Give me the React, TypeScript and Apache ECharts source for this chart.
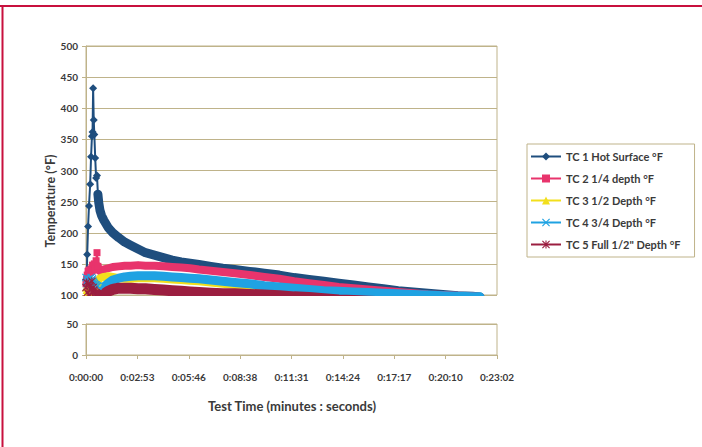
import React, { useEffect, useRef } from 'react';
import * as echarts from 'echarts';

// Time in seconds since start of test
const times = [0, 2, 4, 7, 10, 14, 17, 20, 22, 24, 26, 28, 31, 34, 37, 40, 43, 47, 52, 60, 75, 90, 110, 130, 150, 175, 200, 230, 260, 290, 320, 350, 380, 420, 460, 500, 550, 600, 650, 700, 750, 800, 850, 900, 950, 1000, 1050, 1100, 1150, 1200, 1250, 1300, 1325];

const tc1 = [125, 108, 165, 210, 243, 278, 322, 355, 362, 432, 381, 358, 320, 288, 292, 262, 248, 236, 228, 220, 208, 200, 192, 185, 180, 174, 168, 164, 160, 156, 153, 151, 149, 146, 143, 141, 138, 135, 132, 128, 125, 122, 119, 116, 113, 110, 107, 105, 103, 101, 99, 98, 97];
const tc2 = [118, 125, 132, 138, 140, 136, 142, 138, 148, 140, 145, 150, 142, 155, 168, 146, 140, 138, 139, 141, 143, 145, 146, 147, 147, 148, 147, 147, 146, 145, 144, 143, 141, 139, 137, 135, 132, 129, 126, 122, 119, 116, 113, 111, 109, 107, 105, 103, 101, 100, 99, 98, 97];
const tc3 = [112, 108, 104, 100, 98, 97, 96, 97, 99, 100, 104, 110, 114, 118, 120, 122, 125, 127, 128, 129, 130, 129, 127, 126, 126, 127, 127, 127, 126, 125, 124, 123, 122, 120, 118, 116, 114, 111, 109, 107, 105, 103, 102, 101, 100, 99, 98, 97, 96, 95, 94, 93, 93];
const tc4 = [128, 122, 118, 124, 126, 122, 128, 124, 126, 122, 120, 118, 117, 116, 115, 114, 112, 110, 110, 113, 119, 124, 127, 129, 130, 131, 131, 131, 130, 129, 128, 127, 126, 124, 122, 120, 118, 115, 113, 111, 109, 107, 106, 105, 104, 103, 102, 101, 100, 99, 98, 97, 97];
const tc5 = [112, 120, 104, 118, 100, 115, 108, 122, 104, 112, 108, 106, 104, 103, 102, 101, 100, 99, 99, 101, 106, 109, 111, 111, 111, 110, 110, 109, 108, 107, 106, 105, 104, 103, 102, 102, 101, 100, 99, 97, 96, 94, 92, 91, 90, 89, 88, 88, 87, 87, 86, 86, 86];

const seriesNames = [
  'TC 1 Hot Surface °F',
  'TC 2 1/4 depth °F',
  'TC 3 1/2 Depth °F',
  'TC 4 3/4 Depth °F',
  'TC 5 Full 1/2" Depth °F',
];

const xTickLabels = ['0:00:00', '0:02:53', '0:05:46', '0:08:38', '0:11:31', '0:14:24', '0:17:17', '0:20:10', '0:23:02'];
const xStep = 172.8;
const xMax = 1382.4;
const yStep = 50;
const upperRange = [100, 500];
const lowerRange = [0, 50];

const colors = ['#1f4e7e', '#e8346c', '#f2df1c', '#1fa2e2', '#9b1e40'];
const xPath = 'path://M1,0L5,4L9,0L10,1L6,5L10,9L9,10L5,6L1,10L0,9L4,5L0,1Z';
const starPath = 'path://M1,0L5,4L9,0L10,1L6,5L10,9L9,10L5,6L1,10L0,9L4,5L0,1Z M4.3,0H5.7V10H4.3Z';
const symbols = ['diamond', 'rect', 'triangle', xPath, starPath];
const symSizes = [8, 7, 8, 8, 8];
const bandWidths = [9, 8, 8, 9, 11];
const EARLY_END = 15;

const grid = '#bfb38a';
const font = 'Lato';
const textColor = '#3a3a3a';

function pairs(vals: number[], from: number, to: number) {
  const out: number[][] = [];
  for (let i = from; i <= to; i++) out.push([times[i], vals[i]]);
  return out;
}

export default function App() {
  const ref = useRef<HTMLDivElement>(null);
  useEffect(() => {
    if (!ref.current) return;
    const chart = echarts.init(ref.current, undefined, { renderer: 'svg' });
    const values = [tc1, tc2, tc3, tc4, tc5];
    const series: any[] = [];
    values.forEach((vals, k) => {
      series.push({
        name: seriesNames[k],
        type: 'line',
        xAxisIndex: 0,
        yAxisIndex: 0,
        data: pairs(vals, 0, EARLY_END),
        symbol: symbols[k],
        symbolSize: symSizes[k],
        showSymbol: true,
        lineStyle: { color: colors[k], width: 2 },
        itemStyle: { color: colors[k] },
        clip: true,
        silent: true,
      });
      series.push({
        name: seriesNames[k],
        type: 'line',
        xAxisIndex: 0,
        yAxisIndex: 0,
        data: pairs(vals, EARLY_END, times.length - 1),
        symbol: 'none',
        showSymbol: false,
        lineStyle: { color: colors[k], width: bandWidths[k], cap: 'round', join: 'round' },
        itemStyle: { color: colors[k] },
        clip: true,
        silent: true,
      });
    });

    const labelStyle = { fontFamily: font, fontWeight: 'bold' as const, fontSize: 10, color: textColor };

    chart.setOption({
      animation: false,
      backgroundColor: '#ffffff',
      grid: [
        { left: 86, top: 46, width: 411, height: 249, show: true, borderColor: grid, borderWidth: 1 },
        { left: 86, top: 324, width: 411, height: 31, show: true, borderColor: grid, borderWidth: 1 },
      ],
      xAxis: [
        { gridIndex: 0, type: 'value', min: 0, max: xMax, interval: xStep, show: false },
        {
          gridIndex: 1,
          type: 'value',
          min: 0,
          max: xMax,
          interval: xStep,
          axisLine: { show: true, lineStyle: { color: grid } },
          axisTick: { show: true, length: 4, lineStyle: { color: grid } },
          splitLine: { show: false },
          axisLabel: {
            ...labelStyle,
            margin: 17,
            formatter: (v: number) => xTickLabels[Math.round(v / xStep)] ?? '',
          },
        },
      ],
      yAxis: [
        {
          gridIndex: 0,
          type: 'value',
          min: upperRange[0],
          max: upperRange[1],
          interval: yStep,
          axisLine: { show: true, lineStyle: { color: grid } },
          axisTick: { show: true, length: 4, lineStyle: { color: grid } },
          splitLine: { show: true, lineStyle: { color: grid } },
          axisLabel: { ...labelStyle, margin: 8 },
        },
        {
          gridIndex: 1,
          type: 'value',
          min: lowerRange[0],
          max: lowerRange[1],
          interval: yStep,
          axisLine: { show: true, lineStyle: { color: grid } },
          axisTick: { show: true, length: 4, lineStyle: { color: grid } },
          splitLine: { show: true, lineStyle: { color: grid } },
          axisLabel: { ...labelStyle, margin: 8 },
        },
      ],
      legend: {
        orient: 'vertical',
        left: 527,
        top: 144,
        padding: [7, 14, 7, 3],
        itemWidth: 30,
        itemHeight: 10,
        itemGap: 11,
        borderColor: grid,
        borderWidth: 1,
        selectedMode: false,
        textStyle: { fontFamily: font, fontWeight: 'bold', fontSize: 11, color: textColor },
        data: seriesNames,
      },
      graphic: [
        {
          type: 'rect',
          z: 100,
          shape: { x: 80, y: 296, width: 425, height: 27 },
          style: { fill: '#ffffff' },
        },
        { type: 'line', z: 100, shape: { x1: 0, y1: 6, x2: 702, y2: 6 }, style: { stroke: '#c8103e', lineWidth: 2 } },
        { type: 'line', z: 100, shape: { x1: 2.5, y1: 5, x2: 2.5, y2: 447 }, style: { stroke: '#c8103e', lineWidth: 2 } },
        {
          type: 'text',
          x: 50,
          y: 201,
          rotation: Math.PI / 2,
          style: {
            text: 'Temperature (°F)',
            align: 'center',
            verticalAlign: 'middle',
            fontFamily: font,
            fontWeight: 'bold',
            fontSize: 12.5,
            fill: textColor,
          },
        },
        {
          type: 'text',
          x: 292,
          y: 406,
          style: {
            text: 'Test Time (minutes : seconds)',
            align: 'center',
            verticalAlign: 'middle',
            fontFamily: font,
            fontWeight: 'bold',
            fontSize: 13,
            fill: textColor,
          },
        },
      ],
      series,
    });
    return () => chart.dispose();
  }, []);
  return <div ref={ref} style={{ position: 'absolute', left: 0, top: 0, width: 702, height: 447 }} />;
}
